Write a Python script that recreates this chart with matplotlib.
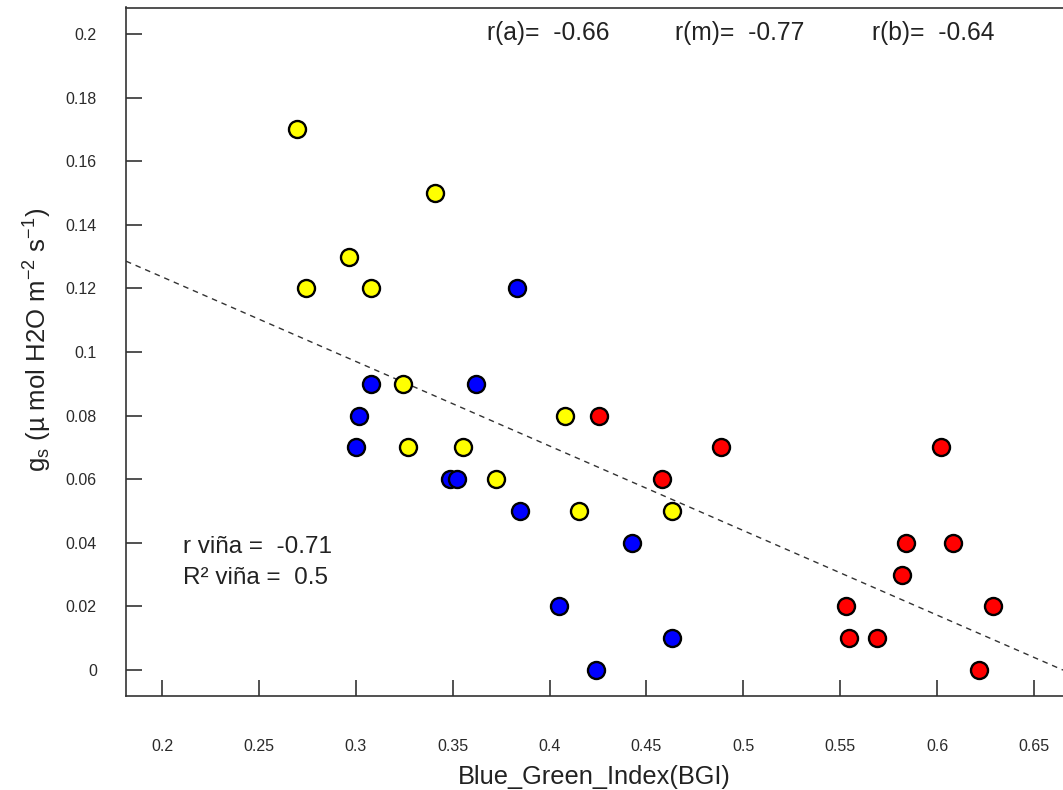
import matplotlib
matplotlib.use('Agg')
import matplotlib.pyplot as plt
import numpy as np

plt.rcParams['font.family'] = ['Liberation Sans', 'DejaVu Sans']
plt.rcParams['mathtext.fontset'] = 'custom'
plt.rcParams['mathtext.rm'] = 'Liberation Sans'
plt.rcParams['mathtext.it'] = 'Liberation Sans:italic'

# BGI vs stomatal conductance, three vineyard zones
bgi_a = [0.2697, 0.2743, 0.2965, 0.3078, 0.3409, 0.3244, 0.3270, 0.3553,
         0.3724, 0.4080, 0.4152, 0.4632]
gs_a = [0.17, 0.12, 0.13, 0.12, 0.15, 0.09, 0.07, 0.07, 0.06, 0.08, 0.05, 0.05]

bgi_m = [0.3832, 0.3078, 0.3620, 0.3017, 0.3001, 0.3486, 0.3522, 0.3847,
         0.4425, 0.4049, 0.4632, 0.4240]
gs_m = [0.12, 0.09, 0.09, 0.08, 0.07, 0.06, 0.06, 0.05, 0.04, 0.02, 0.01, 0.0]

bgi_b = [0.4255, 0.4885, 0.4580, 0.6020, 0.5840, 0.6082, 0.5819, 0.5530,
         0.6288, 0.5545, 0.5690, 0.6216]
gs_b = [0.08, 0.07, 0.06, 0.07, 0.04, 0.04, 0.03, 0.02, 0.02, 0.01, 0.01, 0.0]

# fitted line
fit_intercept = 0.1768
fit_slope = -0.2659

group_names = ['a', 'm', 'b']
group_r = ['-0.66', '-0.77', '-0.64']
r_vina = '-0.71'
r2_vina = '0.5'

x_ticks = [0.2, 0.25, 0.3, 0.35, 0.4, 0.45, 0.5, 0.55, 0.6, 0.65]
x_ticklabels = ['0.2', '0.25', '0.3', '0.35', '0.4', '0.45', '0.5', '0.55', '0.6', '0.65']
y_ticks = [0, 0.02, 0.04, 0.06, 0.08, 0.1, 0.12, 0.14, 0.16, 0.18, 0.2]
y_ticklabels = ['0', '0.02', '0.04', '0.06', '0.08', '0.1', '0.12', '0.14', '0.16', '0.18', '0.2']

fig = plt.figure(figsize=(10.63, 7.90), dpi=100)
ax = fig.add_axes([126 / 1063, 94 / 790, 937 / 1063, 688.5 / 790])

xmin, xmax = 0.1814, 0.665
ax.set_xlim(xmin, xmax)
ax.set_ylim(-0.00818, 0.20833)

# regression line
xs = np.array([xmin, xmax])
ax.plot(xs, fit_intercept + fit_slope * xs, color='#333333', lw=1,
        dashes=(4, 3.5), zorder=2)

ax.scatter(bgi_a, gs_a, s=150, c='#FFFF00', edgecolors='black', linewidths=1.7, zorder=3)
ax.scatter(bgi_m, gs_m, s=150, c='#0000FF', edgecolors='black', linewidths=1.7, zorder=3)
ax.scatter(bgi_b, gs_b, s=150, c='#FF0000', edgecolors='black', linewidths=1.7, zorder=3)

ax.set_xticks(x_ticks)
ax.set_xticklabels(x_ticklabels)
ax.set_yticks(y_ticks)
ax.set_yticklabels(y_ticklabels)
ax.tick_params(axis='both', direction='in', length=11.5, width=1.1,
               color='#222222', labelsize=11.5, labelcolor='#2a2a2a')
ax.tick_params(axis='x', pad=31)
ax.tick_params(axis='y', pad=21)

for side in ['left', 'bottom', 'top']:
    ax.spines[side].set_linewidth(1.2)
    ax.spines[side].set_color('#333333')
ax.spines['right'].set_visible(False)

ax.set_xlabel('Blue_Green_Index(BGI)', fontsize=18.3, color='#222222', labelpad=8)
fig.text(38 / 1063, 1 - 340 / 790,
         r'g$_\mathrm{s}$ (µ mol H2O m$^{-2}$ s$^{-1}$)',
         rotation=90, fontsize=18.5, color='#222222', ha='center', va='center')

# correlation annotations
r_x = [0.3853, 0.5859, 0.7962]
for xpos, name, val in zip(r_x, group_names, group_r):
    ax.text(xpos, 0.963, 'r(' + name + ')=  ' + val, transform=ax.transAxes,
            fontsize=17.7, color='#222222', ha='left', va='center')

ax.text(0.0608, 0.2164, 'r viña =  ' + r_vina, transform=ax.transAxes,
        fontsize=17.5, color='#222222', ha='left', va='center')
ax.text(0.0608, 0.1714, 'R² viña =  ' + r2_vina, transform=ax.transAxes,
        fontsize=17.5, color='#222222', ha='left', va='center')

fig.savefig('out.png', dpi=100)
